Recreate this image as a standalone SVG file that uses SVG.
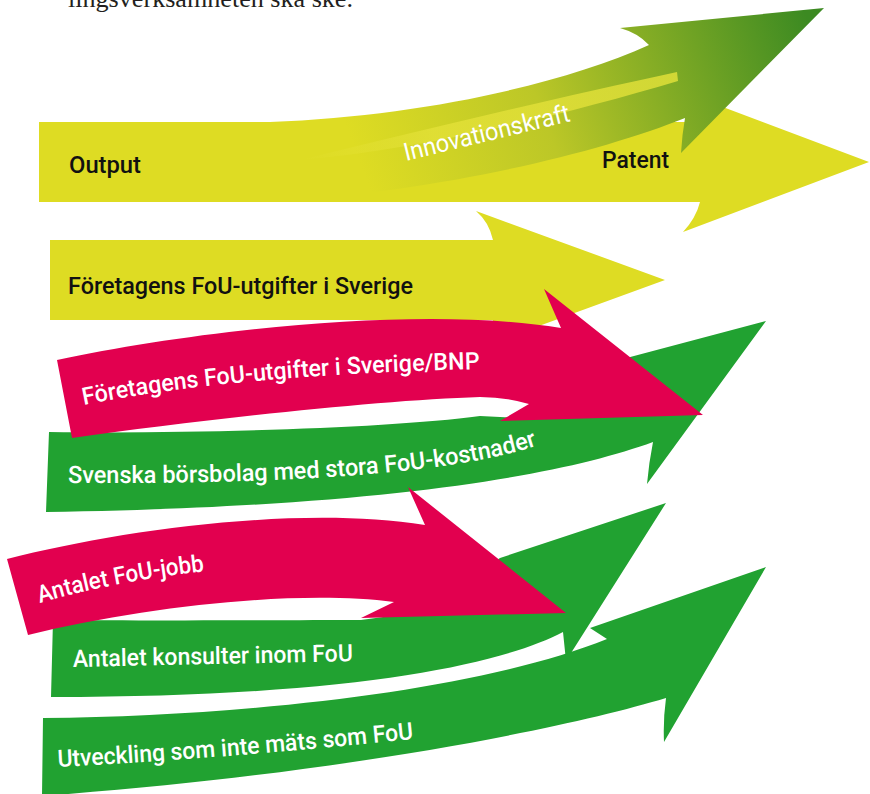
<svg xmlns="http://www.w3.org/2000/svg" width="870" height="794" viewBox="0 0 870 794">
  <style>
    .yellow { fill: #dedc23; }
    .pink { fill: #e2004f; }
    .green { fill: #21a231; }
    .dark { font-family: Roboto, "Liberation Sans", sans-serif; font-weight: 500; font-size: 24px; fill: #111; }
    .light { font-family: Roboto, "Liberation Sans", sans-serif; font-weight: 500; font-size: 24px; fill: #fff; }
    .top { font-family: "Liberation Serif", serif; font-size: 25px; fill: #231f20; }
  </style>
  <defs>
    <linearGradient id="gInno" gradientUnits="userSpaceOnUse" x1="370" y1="190" x2="810" y2="25">
      <stop offset="0" stop-color="#dedc23"/>
      <stop offset="0.4" stop-color="#bcc727"/>
      <stop offset="1" stop-color="#3c8a22"/>
    </linearGradient>
    <linearGradient id="gStreak" gradientUnits="userSpaceOnUse" x1="300" y1="160" x2="678" y2="75">
      <stop offset="0" stop-color="#e6e33a" stop-opacity="0"/>
      <stop offset="0.35" stop-color="#e6e33a" stop-opacity="0.7"/>
      <stop offset="1" stop-color="#e6e33a" stop-opacity="0.8"/>
    </linearGradient>
    <path id="p-bnp" d="M84,405 Q230,375 480,369"/>
    <path id="p-sv" d="M68,483 C250,484 440,478 539,445"/>
    <path id="p-aj" d="M40,603 Q110,582 206,571"/>
    <path id="p-ak" d="M73,667 L356,661"/>
    <path id="p-ut" d="M58,767 Q230,758 414,739"/>
  </defs>

  <text class="top" x="68" y="7" textLength="285" lengthAdjust="spacingAndGlyphs">lingsverksamheten ska ske.</text>

  <g id="output-patent">
    <path class="yellow" d="M39,122 H690 L683,92 L869,162 L683,232 Q696,218 700,202 H39 Z"/>
    <text class="dark" x="69" y="173" textLength="72" lengthAdjust="spacingAndGlyphs">Output</text>
    <text class="dark" x="602" y="168" textLength="67" lengthAdjust="spacingAndGlyphs">Patent</text>
  </g>

  <g id="innovationskraft">
    <path fill="url(#gInno)" d="M270,122 C420,116 560,85 649,45 Q638,33 620,28 L824,8 L681,153 Q682,135 685,118 C600,152 450,190 270,202 Z"/>
    <path fill="url(#gStreak)" d="M677,72 C560,97 430,128 300,160 C420,150 560,116 678,81 Z"/>
    <text class="light" style="font-weight:400;font-size:25px" x="406" y="161" transform="rotate(-13.6 406 161)" textLength="170" lengthAdjust="spacingAndGlyphs">Innovationskraft</text>
  </g>

  <g id="foretagens-fou">
    <path class="yellow" d="M50,240 H493 Q489,222 476,211 L665,280 L476,349 Q489,338 493,320 H50 Z"/>
    <text class="dark" x="68" y="294" textLength="345" lengthAdjust="spacingAndGlyphs">Företagens FoU-utgifter i Sverige</text>
  </g>

  <g id="borsbolag">
    <path class="green" d="M49,432 C200,434 390,428 480,416 L518,418 L585,369 L766,321 L647,484 Q649,462 653,442 C560,476 380,507 46,512 Z"/>
    <text class="light"><textPath href="#p-sv" textLength="472" lengthAdjust="spacingAndGlyphs">Svenska börsbolag med stora FoU-kostnader</textPath></text>
  </g>

  <g id="fou-bnp">
    <path class="pink" d="M57,360 C200,330 420,305 561,328 L544,289 L703,415 L500,421 L529,404 Q505,397 480,397 C380,400 200,420 72,438 Z"/>
    <text class="light"><textPath href="#p-bnp" textLength="398" lengthAdjust="spacingAndGlyphs">Företagens FoU-utgifter i Sverige/BNP</textPath></text>
  </g>

  <g id="konsulter">
    <path class="green" d="M53,620 C200,621 300,620 361,620 L420,612 L500,558 L666,503 L566,661 L563,632 C500,665 350,697 51,697 Z"/>
    <text class="light"><textPath href="#p-ak" textLength="280" lengthAdjust="spacingAndGlyphs">Antalet konsulter inom FoU</textPath></text>
  </g>

  <g id="utveckling">
    <path class="green" d="M43,718 C250,716 480,690 607,639 L590,628 L766,567 L664,742 Q663,720 666,698 C560,730 330,775 42,796 Z"/>
    <text class="light"><textPath href="#p-ut" textLength="357" lengthAdjust="spacingAndGlyphs">Utveckling som inte mäts som FoU</textPath></text>
  </g>

  <g id="fou-jobb">
    <path class="pink" d="M7,559 C120,530 300,505 425,525 L408,487 L566,613 L361,618 L394,602 C300,590 150,605 28,635 Z"/>
    <text class="light"><textPath href="#p-aj" textLength="168" lengthAdjust="spacingAndGlyphs">Antalet FoU-jobb</textPath></text>
  </g>
</svg>
